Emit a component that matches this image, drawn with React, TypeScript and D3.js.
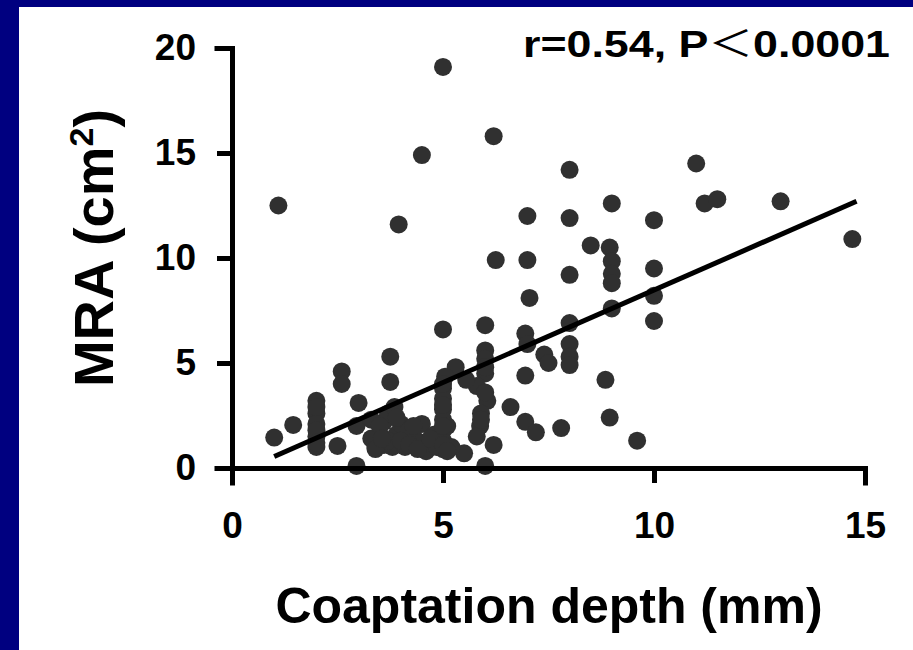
import React, { useEffect, useRef } from "react";
import * as d3 from "d3";

const width = 913;
const height = 650;
const margin = { top: 48, right: 48, bottom: 182, left: 232 };

// coaptation depth (mm) and MRA (cm2), one pair per patient
const depthMm = [
  1.1, 5.0, 4.5, 6.2, 3.95, 8.0, 11.0, 11.2, 11.5, 13.0, 14.7, 7.0, 8.0, 9.0, 10.0,
  6.25, 7.0, 8.5, 8.95, 9.0, 9.0, 9.0, 8.0, 10.0, 7.05, 10.0, 10.0, 9.0, 8.0, 5.0,
  6.0, 6.95, 7.0, 8.0, 8.0, 8.0, 7.4, 7.5, 6.95, 6.6, 6.95, 7.2, 7.8, 8.85, 8.95,
  9.6, 6.0, 6.0, 5.8, 5.55, 6.05, 5.9, 5.88, 6.2, 6.0, 2.95, 1.0, 1.45, 2.0, 2.0,
  2.0, 2.0, 2.0, 2.5, 2.6, 2.6, 3.0, 2.95, 3.75, 3.75, 5.3, 5.05, 5.0, 5.0, 5.0,
  5.0, 5.0, 5.0, 5.0, 5.5, 4.5, 4.5, 4.3, 4.6, 3.4, 3.5, 3.6, 3.7, 3.8, 3.9,
  4.0, 4.1, 3.6, 4.2, 3.3, 3.85, 5.2, 4.8, 5.8, 6.0, 5.1, 4.85, 3.3,
  3.4, 3.5, 3.7, 3.9, 4.0, 4.2, 4.3, 3.55, 4.4, 4.7, 5.0, 5.0, 5.0, 5.0, 5.1,
  2.0, 2.0, 2.0, 6.0, 5.9, 6.0,
];
const mraCm2 = [
  12.5, 19.1, 14.9, 15.8, 11.6, 14.2, 14.5, 12.6, 12.8, 12.7, 10.9, 12.0, 11.9, 12.6, 11.8,
  9.9, 9.9, 10.6, 10.5, 9.85, 9.25, 8.8, 9.2, 9.5, 8.1, 8.2, 7.0, 7.6, 6.9, 6.6,
  6.8, 6.4, 5.9, 5.9, 5.3, 4.9, 5.4, 5.0, 4.4, 2.9, 2.2, 1.7, 1.9, 4.2, 2.4,
  1.3, 5.6, 4.5, 3.9, 4.2, 3.2, 2.6, 2.0, 1.1, 0.1, 0.1, 1.45, 2.05, 3.2, 2.6,
  2.1, 1.5, 1.0, 1.05, 4.6, 4.0, 3.1, 2.0, 5.3, 4.1, 4.8, 4.35, 3.8, 3.3, 2.8,
  2.3, 1.8, 1.3, 0.9, 0.7, 2.1, 1.2, 1.5, 0.8, 1.0, 1.6, 2.2, 2.6, 1.0, 1.6,
  2.1, 1.0, 1.1, 1.8, 1.4, 2.9, 1.0, 1.6, 1.5, 5.2, 2.0, 1.0, 2.3,
  0.9, 2.0, 1.3, 2.4, 1.3, 1.1, 2.0, 1.4, 0.9, 1.4, 4.0, 3.0, 2.0, 1.1, 0.8,
  2.9, 1.8, 1.2, 3.6, 2.3, 4.8,
];

// regression line end points as drawn
const fitDepth = [1.0, 14.8];
const fitMra = [0.55, 12.7];

const xTicks = [0, 5, 10, 15];
const yTicks = [0, 5, 10, 15, 20];

const font = "'Liberation Sans', Arial, sans-serif";

const x = d3
  .scaleLinear()
  .domain([0, 15])
  .range([margin.left, width - margin.right]);
const y = d3
  .scaleLinear()
  .domain([0, 20])
  .range([height - margin.bottom, margin.top]);

export default function App() {
  const xAxisRef = useRef<SVGGElement>(null);
  const yAxisRef = useRef<SVGGElement>(null);

  useEffect(() => {
    const style = (g: d3.Selection<SVGGElement, unknown, null, undefined>) => {
      g.attr("font-family", font).attr("font-size", 37).attr("font-weight", "bold");
      g.selectAll("path, line").attr("stroke", "#000").attr("stroke-width", 5);
      g.select(".domain").attr("stroke-linecap", "square");
      g.selectAll("text").attr("fill", "#000");
    };
    if (xAxisRef.current) {
      const g = d3.select(xAxisRef.current);
      g.call(d3.axisBottom(x).tickValues(xTicks).tickSize(15).tickSizeOuter(15).tickPadding(29));
      style(g);
    }
    if (yAxisRef.current) {
      const g = d3.select(yAxisRef.current);
      g.call(d3.axisLeft(y).tickValues(yTicks).tickSize(15).tickSizeOuter(15).tickPadding(21));
      style(g);
    }
  }, []);

  const points = depthMm.map((d, i) => ({ depth: d, mra: mraCm2[i] }));
  const fitLine = d3
    .line<number>()
    .x((d) => x(d))
    .y((d, i) => y(fitMra[i]));

  return (
    <svg
      width={width}
      height={height}
      style={{ position: "absolute", left: 0, top: 0, display: "block" }}
    >
      <rect x={0} y={0} width={width} height={height} fill="#000080" />
      <rect x={19} y={7} width={width - 19} height={height - 7} fill="#fff" />

      <g>
        {points.map((p, i) => (
          <circle key={i} cx={x(p.depth)} cy={y(p.mra)} r={9} fill="#303030" />
        ))}
      </g>

      <path d={fitLine(fitDepth) ?? ""} fill="none" stroke="#000" strokeWidth={5} />

      <g ref={xAxisRef} transform={`translate(0, ${height - margin.bottom})`} />
      <g ref={yAxisRef} transform={`translate(${margin.left}, 0)`} />

      <text
        x={523}
        y={57}
        fontFamily={font}
        fontWeight="bold"
        fontSize={36}
        textLength={367}
        lengthAdjust="spacingAndGlyphs"
      >
        r=0.54, P
        <tspan fontFamily="'Noto Sans CJK JP', sans-serif" fontWeight="normal">
          ＜
        </tspan>
        0.0001
      </text>

      <text
        x={549}
        y={623}
        textAnchor="middle"
        fontFamily={font}
        fontWeight="bold"
        fontSize={50}
      >
        Coaptation depth (mm)
      </text>

      <text
        transform="translate(113, 248) rotate(-90)"
        textAnchor="middle"
        fontFamily={font}
        fontWeight="bold"
        fontSize={56}
      >
        MRA (cm<tspan fontSize={34} dy={-20}>2</tspan>
        <tspan dy={20}>)</tspan>
      </text>
    </svg>
  );
}
